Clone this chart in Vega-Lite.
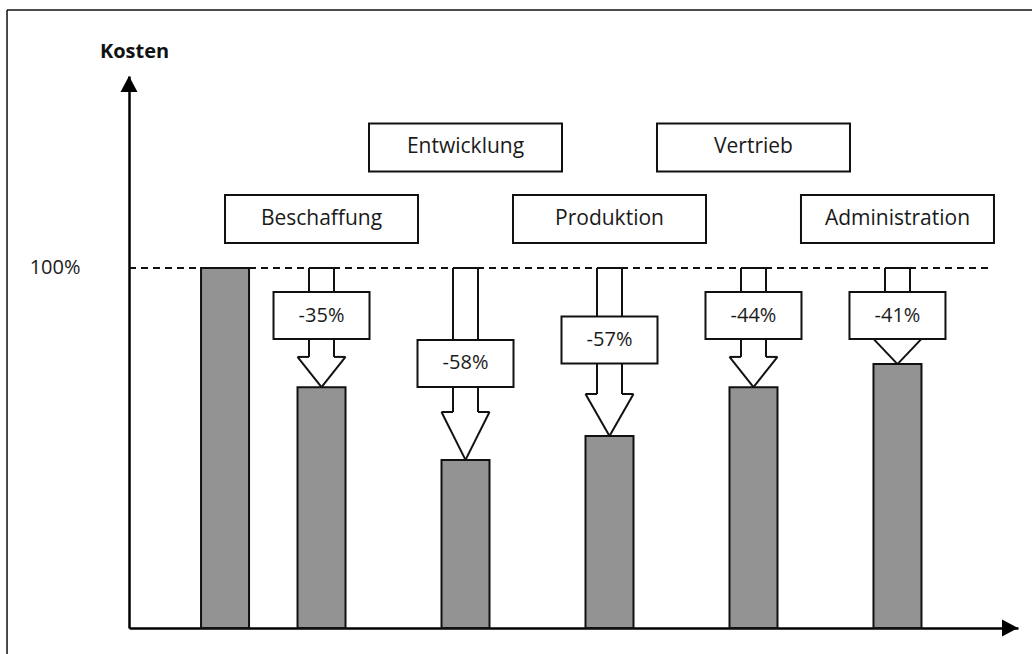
{
  "$schema": "https://vega.github.io/schema/vega-lite/v6.json",
  "width": 889,
  "height": 552,
  "autosize": {"type": "none"},
  "padding": {"left": 129, "top": 76, "right": 14, "bottom": 26},
  "background": "white",
  "config": {
    "view": {"stroke": null},
    "font": "Open Sans",
    "axis": {"grid": false, "ticks": false, "zindex": 1, "domainColor": "#000000", "domainWidth": 2.5}
  },
  "datasets": {
    "kosten": [
      {"bereich": "Ausgangsniveau", "pos": 1.33, "kosten": 100},
      {"bereich": "Beschaffung", "pos": 2, "kosten": 66.9, "senkung": "-35%", "ebene": "unten", "labelAt": 86.8, "headFrom": 75.3},
      {"bereich": "Entwicklung", "pos": 3, "kosten": 46.7, "senkung": "-58%", "ebene": "oben", "labelAt": 73.5, "headFrom": 60.0},
      {"bereich": "Produktion", "pos": 4, "kosten": 53.3, "senkung": "-57%", "ebene": "unten", "labelAt": 80.0, "headFrom": 65.0},
      {"bereich": "Vertrieb", "pos": 5, "kosten": 66.9, "senkung": "-44%", "ebene": "oben", "labelAt": 86.8, "headFrom": 75.3},
      {"bereich": "Administration", "pos": 6, "kosten": 73.3, "senkung": "-41%", "ebene": "unten", "labelAt": 86.8, "headFrom": 80.3}
    ]
  },
  "data": {"name": "kosten"},
  "layer": [
    {
      "mark": {"type": "rect", "fill": "#939393", "stroke": "#111111", "strokeWidth": 2, "xOffset": -24, "x2Offset": 24},
      "encoding": {
        "x": {"field": "pos", "type": "quantitative", "scale": {"domain": [0.663, 6.837], "nice": false, "zero": false},
              "axis": {"labels": false, "title": null, "domain": true}},
        "x2": {"field": "pos"},
        "y": {"field": "kosten", "type": "quantitative", "scale": {"domain": [0, 153.33], "nice": false, "zero": false},
              "axis": {"values": [100], "labelExpr": "'100%'", "labelFont": "Open Sans", "labelFontSize": 20, "labelColor": "#1a1a1a", "labelPadding": 49,
                       "title": "Kosten", "titleAngle": 0, "titleFont": "Open Sans", "titleFontWeight": "bold", "titleFontSize": 20, "titleColor": "#111111",
                       "titleX": 5, "titleY": -25, "titleAlign": "center", "titleBaseline": "middle"}},
        "y2": {"datum": 0}
      }
    },
    {
      "data": {"values": [{}]},
      "mark": {"type": "rule", "stroke": "#111111", "strokeWidth": 1.5, "clip": false},
      "encoding": {"x": {"datum": -0.184, "type": "quantitative"}, "x2": {"datum": 7.0}, "y": {"datum": 171.67, "type": "quantitative"}, "y2": {"datum": 171.67}}
    },
    {
      "data": {"values": [{}]},
      "mark": {"type": "rule", "stroke": "#111111", "strokeWidth": 1.5, "clip": false},
      "encoding": {"x": {"datum": -0.184, "type": "quantitative"}, "x2": {"datum": -0.184}, "y": {"datum": 171.67, "type": "quantitative"}, "y2": {"datum": -8}}
    },
    {
      "data": {"values": [{}]},
      "mark": {"type": "rule", "stroke": "#111111", "strokeWidth": 1.8, "strokeDash": [7, 5]},
      "encoding": {"x": {"datum": 0.663, "type": "quantitative"}, "x2": {"datum": 6.64}, "y": {"datum": 100, "type": "quantitative"}, "y2": {"datum": 100}}
    },
    {
      "transform": [{"filter": "datum.senkung != null"}],
      "mark": {"type": "rule", "stroke": "#111111", "strokeWidth": 2, "xOffset": -12.5, "x2Offset": 12.5},
      "encoding": {"x": {"field": "pos", "type": "quantitative"}, "x2": {"field": "pos"}, "y": {"datum": 100, "type": "quantitative"}, "y2": {"datum": 100}}
    },
    {
      "transform": [{"filter": "datum.senkung != null"}],
      "mark": {"type": "rule", "stroke": "#111111", "strokeWidth": 2, "xOffset": -12.5, "x2Offset": -12.5},
      "encoding": {"x": {"field": "pos", "type": "quantitative"}, "x2": {"field": "pos"}, "y": {"field": "headFrom", "type": "quantitative"}, "y2": {"datum": 100}}
    },
    {
      "transform": [{"filter": "datum.senkung != null"}],
      "mark": {"type": "rule", "stroke": "#111111", "strokeWidth": 2, "xOffset": 12.5, "x2Offset": 12.5},
      "encoding": {"x": {"field": "pos", "type": "quantitative"}, "x2": {"field": "pos"}, "y": {"field": "headFrom", "type": "quantitative"}, "y2": {"datum": 100}}
    },
    {
      "transform": [{"filter": "datum.senkung != null"}],
      "mark": {"type": "rule", "stroke": "#111111", "strokeWidth": 2, "xOffset": -24, "x2Offset": -12.5},
      "encoding": {"x": {"field": "pos", "type": "quantitative"}, "x2": {"field": "pos"}, "y": {"field": "headFrom", "type": "quantitative"}, "y2": {"field": "headFrom"}}
    },
    {
      "transform": [{"filter": "datum.senkung != null"}],
      "mark": {"type": "rule", "stroke": "#111111", "strokeWidth": 2, "xOffset": 12.5, "x2Offset": 24},
      "encoding": {"x": {"field": "pos", "type": "quantitative"}, "x2": {"field": "pos"}, "y": {"field": "headFrom", "type": "quantitative"}, "y2": {"field": "headFrom"}}
    },
    {
      "transform": [{"filter": "datum.senkung != null"}],
      "mark": {"type": "rule", "stroke": "#111111", "strokeWidth": 2, "xOffset": -24, "x2Offset": 0},
      "encoding": {"x": {"field": "pos", "type": "quantitative"}, "x2": {"field": "pos"}, "y": {"field": "headFrom", "type": "quantitative"}, "y2": {"field": "kosten"}}
    },
    {
      "transform": [{"filter": "datum.senkung != null"}],
      "mark": {"type": "rule", "stroke": "#111111", "strokeWidth": 2, "xOffset": 24, "x2Offset": 0},
      "encoding": {"x": {"field": "pos", "type": "quantitative"}, "x2": {"field": "pos"}, "y": {"field": "headFrom", "type": "quantitative"}, "y2": {"field": "kosten"}}
    },
    {
      "transform": [{"filter": "datum.senkung != null"}],
      "mark": {"type": "rect", "fill": "white", "stroke": "#111111", "strokeWidth": 2, "xOffset": -48, "x2Offset": 48, "yOffset": -23.5, "y2Offset": 23.5},
      "encoding": {"x": {"field": "pos", "type": "quantitative"}, "x2": {"field": "pos"}, "y": {"field": "labelAt", "type": "quantitative"}, "y2": {"field": "labelAt"}}
    },
    {
      "transform": [{"filter": "datum.senkung != null"}],
      "mark": {"type": "text", "font": "Open Sans", "fontSize": 20, "color": "#1a1a1a", "align": "center", "baseline": "middle"},
      "encoding": {"x": {"field": "pos", "type": "quantitative"}, "y": {"field": "labelAt", "type": "quantitative"}, "text": {"field": "senkung"}}
    },
    {
      "transform": [{"filter": "datum.ebene == 'unten'"}],
      "mark": {"type": "rect", "fill": "white", "stroke": "#111111", "strokeWidth": 2, "xOffset": -96.5, "x2Offset": 96.5, "yOffset": -24, "y2Offset": 24},
      "encoding": {"x": {"field": "pos", "type": "quantitative"}, "x2": {"field": "pos"}, "y": {"datum": 113.6, "type": "quantitative"}, "y2": {"datum": 113.6}}
    },
    {
      "transform": [{"filter": "datum.ebene == 'unten'"}],
      "mark": {"type": "text", "font": "Open Sans", "fontSize": 21, "color": "#1a1a1a", "align": "center", "baseline": "middle"},
      "encoding": {"x": {"field": "pos", "type": "quantitative"}, "y": {"datum": 113.6, "type": "quantitative"}, "text": {"field": "bereich"}}
    },
    {
      "transform": [{"filter": "datum.ebene == 'oben'"}],
      "mark": {"type": "rect", "fill": "white", "stroke": "#111111", "strokeWidth": 2, "xOffset": -96.5, "x2Offset": 96.5, "yOffset": -24, "y2Offset": 24},
      "encoding": {"x": {"field": "pos", "type": "quantitative"}, "x2": {"field": "pos"}, "y": {"datum": 133.5, "type": "quantitative"}, "y2": {"datum": 133.5}}
    },
    {
      "transform": [{"filter": "datum.ebene == 'oben'"}],
      "mark": {"type": "text", "font": "Open Sans", "fontSize": 21, "color": "#1a1a1a", "align": "center", "baseline": "middle"},
      "encoding": {"x": {"field": "pos", "type": "quantitative"}, "y": {"datum": 133.5, "type": "quantitative"}, "text": {"field": "bereich"}}
    },
    {
      "data": {"values": [{}]},
      "mark": {"type": "point", "filled": true, "fill": "#000000", "opacity": 1, "strokeWidth": 0, "shape": "M0,0L0.53,1L-0.53,1Z", "size": 1024, "clip": false},
      "encoding": {"x": {"datum": 0.663, "type": "quantitative"}, "y": {"datum": 153.33, "type": "quantitative"}}
    },
    {
      "data": {"values": [{}]},
      "mark": {"type": "point", "filled": true, "fill": "#000000", "opacity": 1, "strokeWidth": 0, "shape": "M0,0L-1,-0.53L-1,0.53Z", "size": 1024, "clip": false},
      "encoding": {"x": {"datum": 6.837, "type": "quantitative"}, "y": {"datum": 0, "type": "quantitative"}}
    }
  ]
}
